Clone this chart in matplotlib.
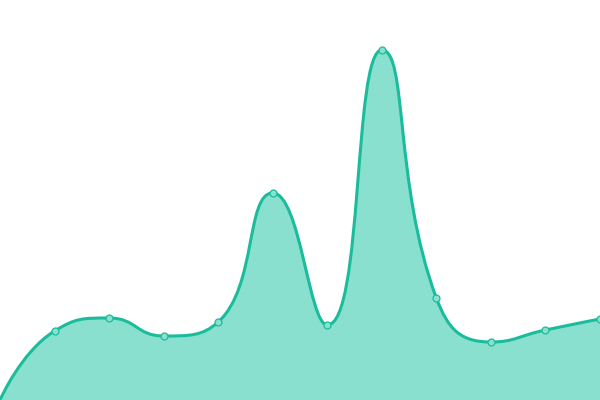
import numpy as np
import matplotlib
matplotlib.use("Agg")
import matplotlib.pyplot as plt
from matplotlib.path import Path
from matplotlib.patches import PathPatch

categories = list(range(12))
values = [0, 69, 82, 64, 78, 207, 75, 350, 102, 58, 70, 81]

LINE = "#1abc9c"
FILL = "#8ae0cf"
SMOOTH = 0.5

fig = plt.figure(figsize=(6, 4), dpi=100)
ax = fig.add_axes([0, 0, 1, 1])
ax.set_xlim(0, len(categories) - 1)
ax.set_ylim(0, 400)
ax.axis("off")
fig.canvas.draw()

pts = ax.transData.transform(np.column_stack([categories, values]).astype(float))


def echarts_smooth(p, smooth):
    n = len(p)
    cps_out = [None] * n
    cps_in = [None] * n
    for i in range(n):
        x, y = p[i]
        if i == 0 or i == n - 1:
            cps_in[i] = (x, y)
            cps_out[i] = (x, y)
            continue
        px, py = p[i - 1]
        nx, ny = p[i + 1]
        vx, vy = nx - px, ny - py
        l0 = np.hypot(x - px, y - py)
        l1 = np.hypot(nx - x, ny - y)
        r = l1 / (l0 + l1)
        c1x, c1y = x + vx * smooth * r, y + vy * smooth * r
        c1x = min(c1x, max(nx, x)); c1x = max(c1x, min(nx, x))
        c1y = min(c1y, max(ny, y)); c1y = max(c1y, min(ny, y))
        vx, vy = c1x - x, c1y - y
        c0x, c0y = x - vx * l0 / l1, y - vy * l0 / l1
        c0x = min(c0x, max(px, x)); c0x = max(c0x, min(px, x))
        c0y = min(c0y, max(py, y)); c0y = max(c0y, min(py, y))
        vx, vy = x - c0x, y - c0y
        c1x, c1y = x + vx * l1 / l0, y + vy * l1 / l0
        cps_in[i] = (c0x, c0y)
        cps_out[i] = (c1x, c1y)
    verts = [tuple(p[0])]
    codes = [Path.MOVETO]
    for i in range(n - 1):
        verts += [cps_out[i], cps_in[i + 1], tuple(p[i + 1])]
        codes += [Path.CURVE4] * 3
    return verts, codes


verts, codes = echarts_smooth(pts, SMOOTH)
inv = ax.transData.inverted()
dverts = [tuple(v) for v in inv.transform(np.array(verts))]

base0 = (categories[-1], 0)
base1 = (categories[0], 0)
area_verts = dverts + [base0, base1, dverts[0]]
area_codes = codes + [Path.LINETO, Path.LINETO, Path.CLOSEPOLY]
ax.add_patch(PathPatch(Path(area_verts, area_codes), facecolor=FILL, edgecolor="none", zorder=1))
ax.add_patch(PathPatch(Path(dverts, codes), facecolor="none", edgecolor=LINE, lw=2.2,
                       capstyle="round", joinstyle="round", zorder=2))
ax.plot(categories, values, linestyle="none", marker="o", markersize=5,
        markerfacecolor=FILL, markeredgecolor=LINE, markeredgewidth=0.9, zorder=3,
        markevery=list(range(1, len(categories))))

fig.savefig("out.png", dpi=100)
